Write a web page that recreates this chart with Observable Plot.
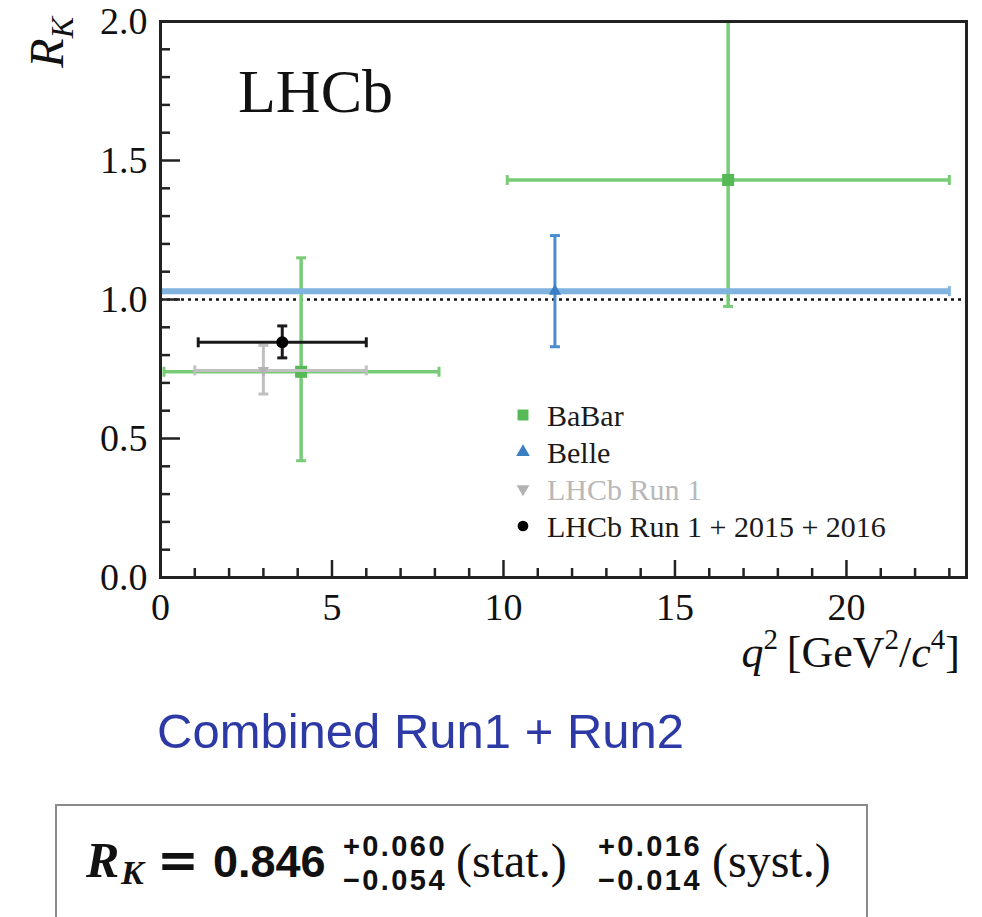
<!DOCTYPE html>
<html><head><meta charset="utf-8">
<script src="https://cdn.jsdelivr.net/npm/d3@7"></script>
<script src="https://cdn.jsdelivr.net/npm/@observablehq/plot@0.6"></script>
<style>
html,body{margin:0;padding:0;background:#fff;}
#page{position:relative;width:982px;height:917px;overflow:hidden;background:#fff;}
#page svg{display:block;}
.abs{position:absolute;white-space:nowrap;}
</style></head>
<body><div id="page"></div>
<script>
// ---------- data ----------
const experiments = ["BaBar", "BaBar", "Belle", "LHCb Run 1", "LHCb Run 1 + 2015 + 2016"];
const q2     = [4.1, 16.55, 11.5, 3.0, 3.55];
const q2Lo   = [0.1, 10.11, 0.0, 1.0, 1.1];
const q2Hi   = [8.12, 23.0, 23.0, 6.0, 6.0];
const rk     = [0.74, 1.43, 1.03, 0.745, 0.846];
const rkLo   = [0.42, 0.975, 0.83, 0.66, 0.79];
const rkHi   = [1.15, 2.0, 1.23, 0.835, 0.905];
const legendLabels = ["BaBar", "Belle", "LHCb Run 1", "LHCb Run 1 + 2015 + 2016"];
const xMajor = [0, 5, 10, 15, 20];
const xMinor = [1, 2, 3, 4, 6, 7, 8, 9, 11, 12, 13, 14, 16, 17, 18, 19, 21, 22, 23];
const yMajor = [0, 0.5, 1.0, 1.5, 2.0];
const yMinor = [0.1, 0.2, 0.3, 0.4, 0.6, 0.7, 0.8, 0.9, 1.1, 1.2, 1.3, 1.4, 1.6, 1.7, 1.8, 1.9];
const referenceLine = [1.0];
const experimentTag = "LHCb";
const combinedTitle = "Combined Run1 + Run2";
const rkValue = "0.846";
const statErr = ["+0.060", "\u22120.054"];
const systErr = ["+0.016", "\u22120.014"];

const points = experiments.map((exp, i) => ({
  exp, x: q2[i], xlo: q2Lo[i], xhi: q2Hi[i], y: rk[i], ylo: rkLo[i], yhi: rkHi[i]
}));

// ---------- layout ----------
const W = 982, H = 690, mL = 160, mR = 16, mT = 21, mB = 113;
const plotW = W - mL - mR, plotH = H - mT - mB;
const serif = "'Liberation Serif','Times New Roman',Times,serif";
const sans = "'Liberation Sans',Arial,Helvetica,sans-serif";

// custom symbols
const capV = {draw(ctx, size) { const h = Math.sqrt(size / Math.PI); ctx.moveTo(0, -h); ctx.lineTo(0, h); }};
const capH = {draw(ctx, size) { const h = Math.sqrt(size / Math.PI); ctx.moveTo(-h, 0); ctx.lineTo(h, 0); }};
const triDown = {draw(ctx, size) {
  const s3 = Math.sqrt(3); const y = -Math.sqrt(size / (s3 * 3));
  ctx.moveTo(0, -y * 2); ctx.lineTo(-s3 * y, y); ctx.lineTo(s3 * y, y); ctx.closePath();
}};

const styleByExp = {
  "BaBar": {line: "#78cc78", hline: "#78cc78", hw: 3.5, vw: 3.5, marker: "#55b955", symbol: "square", r: 6.8},
  "Belle": {line: "#4a8dcc", hline: "#80b3df", hw: 6, vw: 3, marker: "#3a7fc2", symbol: "triangle", r: 4.6},
  "LHCb Run 1": {line: "#c0c0c0", hline: "#c0c0c0", hw: 3, vw: 3, marker: "#b3b3b3", symbol: triDown, r: 4.2},
  "LHCb Run 1 + 2015 + 2016": {line: "#1a1a1a", hline: "#1a1a1a", hw: 3, vw: 3, marker: "#000", symbol: "circle", r: 6}
};

function expMarks(exp) {
  const s = styleByExp[exp];
  const d = points.filter(p => p.exp === exp);
  return [
    Plot.link(d, {x1: "xlo", x2: "xhi", y1: "y", y2: "y", stroke: s.hline, strokeWidth: s.hw}),
    Plot.link(d, {x1: "x", x2: "x", y1: "ylo", y2: "yhi", stroke: s.line, strokeWidth: s.vw}),
    Plot.dot(d, {x: "xlo", y: "y", symbol: capV, r: 5, fill: "none", stroke: s.hline, strokeWidth: 3}),
    Plot.dot(d, {x: "xhi", y: "y", symbol: capV, r: 5, fill: "none", stroke: s.hline, strokeWidth: 3}),
    Plot.dot(d, {x: "x", y: "ylo", symbol: capH, r: 5, fill: "none", stroke: s.line, strokeWidth: 3}),
    Plot.dot(d, {x: "x", y: "yhi", symbol: capH, r: 5, fill: "none", stroke: s.line, strokeWidth: 3}),
    Plot.dot(d, {x: "x", y: "y", symbol: s.symbol, r: s.r, fill: s.marker, stroke: "none"})
  ];
}

const plot = Plot.plot({
  width: W, height: H,
  marginLeft: mL, marginRight: mR, marginTop: mT, marginBottom: mB,
  style: {fontFamily: serif, fontSize: "38px", color: "#111", background: "#fff"},
  x: {domain: [0, 23.5]},
  y: {domain: [0, 2]},
  marks: [
    Plot.ruleY(referenceLine, {stroke: "#111", strokeWidth: 2.5, strokeDasharray: "3,4"}),
    ...expMarks("BaBar"),
    ...expMarks("Belle"),
    ...expMarks("LHCb Run 1"),
    ...expMarks("LHCb Run 1 + 2015 + 2016"),
    // inward ticks
    Plot.tickX(xMajor, {x: d => d, insetTop: plotH - 17, stroke: "#222", strokeWidth: 2.5}),
    Plot.tickX(xMinor, {x: d => d, insetTop: plotH - 9, stroke: "#222", strokeWidth: 2.5}),
    Plot.tickY(yMajor, {y: d => d, insetRight: plotW - 20, stroke: "#222", strokeWidth: 2.5}),
    Plot.tickY(yMinor, {y: d => d, insetRight: plotW - 10, stroke: "#222", strokeWidth: 2.5}),
    Plot.axisX({ticks: xMajor, tickSize: 0, tickPadding: 16, fontSize: 38, label: null, tickFormat: d3.format("d")}),
    Plot.axisY({ticks: yMajor, tickSize: 0, tickPadding: 13, fontSize: 38, label: null, tickFormat: d3.format(".1f")}),
    Plot.frame({stroke: "#222", strokeWidth: 3})
  ]
});

const page = document.getElementById("page");
page.appendChild(plot);

// ---------- annotations inside the SVG ----------
const svg = d3.select(plot);
svg.append("text").attr("x", 238).attr("y", 112).attr("text-anchor", "start")
  .attr("font-family", serif).attr("font-size", 62).attr("fill", "#111").text(experimentTag);

// y label R_K
const yl = svg.append("text").attr("transform", "translate(63,17) rotate(-90)")
  .attr("text-anchor", "end").attr("font-family", serif).attr("font-style", "italic").attr("fill", "#111");
yl.append("tspan").attr("font-size", 48).text("R");
yl.append("tspan").attr("font-size", 32).attr("dy", 10).text("K");

// x label q^2 [GeV^2/c^4]
const xl = svg.append("text").attr("x", 960).attr("y", 667).attr("text-anchor", "end")
  .attr("font-family", serif).attr("font-size", 44).attr("fill", "#111");
xl.append("tspan").attr("font-style", "italic").text("q");
xl.append("tspan").attr("font-size", 29).attr("dy", -18).text("2");
xl.append("tspan").attr("dy", 18).text("\u2009[GeV");
xl.append("tspan").attr("font-size", 29).attr("dy", -18).text("2");
xl.append("tspan").attr("dy", 18).text("/");
xl.append("tspan").attr("font-style", "italic").text("c");
xl.append("tspan").attr("font-size", 29).attr("dy", -18).text("4");
xl.append("tspan").attr("dy", 18).text("]");

// legend
const lg = svg.append("g").attr("font-family", serif).attr("font-size", 30).attr("text-anchor", "start");
const legendSym = [d3.symbolSquare, d3.symbolTriangle, triDown, d3.symbolCircle];
const legendSize = [120, 80, 70, 90];
legendLabels.forEach((lab, i) => {
  const s = styleByExp[lab];
  const base = 426 + 37 * i;
  lg.append("path").attr("transform", `translate(523,${base - 11})`)
    .attr("d", d3.symbol(legendSym[i], legendSize[i])()).attr("fill", s.marker);
  lg.append("text").attr("x", 547).attr("y", base).attr("text-anchor", "start")
    .attr("fill", lab === "LHCb Run 1" ? "#b8b8b8" : "#1a1a1a").text(lab);
});

// ---------- caption below the SVG ----------
function place(text, {x, base, size, lh = size, family, weight = "normal", style = "normal", color = "#111", spacing = 0}) {
  const s = document.createElement("span");
  s.className = "abs";
  s.textContent = text;
  Object.assign(s.style, {
    left: x + "px", top: (base - lh / 2 - 0.34 * size) + "px", fontSize: size + "px", lineHeight: lh + "px",
    fontFamily: family, fontWeight: weight, fontStyle: style, color, letterSpacing: spacing + "px"
  });
  page.appendChild(s);
  return s;
}

place(combinedTitle, {x: 157, base: 748, size: 49, family: sans, color: "#2d3aa6"});

const box = document.createElement("div");
box.className = "abs";
Object.assign(box.style, {left: "55px", top: "804px", width: "813px", height: "300px",
  border: "2px solid #8a8a8a", boxSizing: "border-box"});
page.appendChild(box);

place("R", {x: 86, base: 877, size: 50, family: serif, weight: "bold", style: "italic"});
place("K", {x: 121, base: 885, size: 34, lh: 30, family: serif, weight: "bold", style: "italic"});
place("=", {x: 157, base: 877, size: 50, family: "'DejaVu Sans',sans-serif", weight: "bold"});
place(rkValue, {x: 213, base: 877, size: 45, family: sans, weight: "bold"});
place(statErr[0], {x: 343, base: 856, size: 29, lh: 26, family: sans, weight: "bold", spacing: 2.4});
place(statErr[1], {x: 343, base: 890, size: 29, lh: 26, family: sans, weight: "bold", spacing: 2.4});
place("(stat.)", {x: 456, base: 877, size: 48, family: serif});
place(systErr[0], {x: 598, base: 856, size: 29, lh: 26, family: sans, weight: "bold", spacing: 2.4});
place(systErr[1], {x: 598, base: 890, size: 29, lh: 26, family: sans, weight: "bold", spacing: 2.4});
place("(syst.)", {x: 712, base: 877, size: 48, family: serif});
</script>
</body></html>
